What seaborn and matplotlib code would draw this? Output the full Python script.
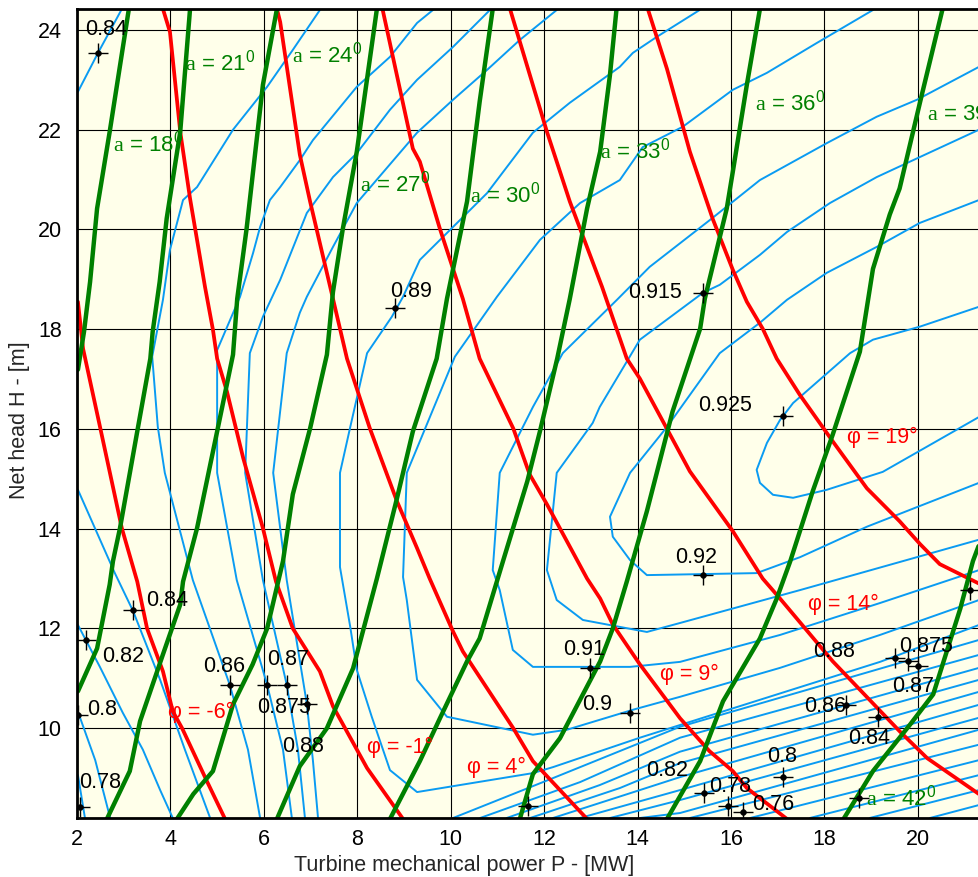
import numpy as np
import pandas as pd
import matplotlib
matplotlib.use("Agg")
import matplotlib.pyplot as plt
import seaborn as sns

# ---- guide vane opening lines (phi = const) ----
phi_labels = ["φ = -6°", "φ = -1°", "φ = 4°", "φ = 9°", "φ = 14°", "φ = 19°"]
phi_m6_x = [2.02, 2.13, 2.50, 2.96, 3.29, 3.50, 3.84, 4.05, 4.25, 4.78, 5.17]
phi_m6_y = [18.55, 17.61, 16.01, 14.01, 12.94, 12.00, 11.14, 10.34, 10.00, 8.94, 8.18]
phi_m1_x = [3.84, 3.99, 4.21, 4.42, 4.74, 4.91, 5.00, 5.21, 5.56, 5.98, 6.26, 6.62, 7.20, 7.48, 8.21, 8.98]
phi_m1_y = [24.42, 23.96, 21.96, 20.62, 18.85, 17.99, 17.41, 16.75, 15.41, 14.01, 12.94, 12.00, 11.14, 10.44, 9.20, 8.18]
phi_4_x = [6.28, 6.35, 6.77, 6.99, 7.48, 7.78, 8.27, 8.85, 9.28, 9.55, 10.05, 10.26, 11.34, 11.76, 12.92]
phi_4_y = [24.42, 24.16, 21.50, 20.56, 18.61, 17.41, 16.01, 14.55, 13.61, 13.00, 11.94, 11.54, 10.00, 9.34, 8.18]
phi_9_x = [8.54, 9.19, 9.34, 9.77, 10.26, 10.62, 11.34, 11.69, 12.06, 12.92, 13.20, 13.47, 14.05, 14.91, 15.54, 16.04, 16.34, 17.20]
phi_9_y = [24.42, 21.62, 21.36, 20.01, 18.61, 17.41, 16.01, 15.09, 14.49, 13.00, 12.60, 12.08, 11.28, 10.20, 9.54, 9.14, 8.80, 8.18]
phi_14_x = [11.27, 12.06, 12.55, 13.24, 13.77, 14.05, 15.12, 16.04, 16.68, 17.05, 18.18, 19.61, 20.20, 21.31]
phi_14_y = [24.42, 21.96, 20.56, 18.85, 17.41, 17.01, 15.15, 13.95, 13.00, 12.60, 11.34, 9.94, 9.40, 8.68]
phi_19_x = [14.22, 14.63, 15.12, 15.61, 16.04, 16.34, 16.68, 16.98, 17.47, 18.18, 18.91, 19.61, 20.05, 20.47, 21.31]
phi_19_y = [24.42, 23.22, 21.56, 20.21, 19.19, 18.55, 18.01, 17.41, 16.69, 15.75, 14.81, 14.15, 13.69, 13.29, 12.90]
phi_lab_x = [3.95, 8.21, 10.35, 14.48, 17.65, 18.48]
phi_lab_y = [10.31, 9.61, 9.22, 11.07, 12.49, 15.84]

# ---- runner blade angle lines (a = const) ----
a_labels = ["18", "21", "24", "27", "30", "33", "36", "39", "42"]
a18_x = [3.11, 2.90, 2.70, 2.43, 2.28, 2.15, 2.02]
a18_y = [24.42, 23.16, 21.96, 20.42, 18.95, 17.95, 17.19]
a21_x = [4.42, 4.21, 3.92, 3.77, 3.62, 3.57, 3.29, 2.92, 2.77, 2.70, 2.43, 2.02]
a21_y = [24.42, 21.96, 20.22, 18.95, 17.95, 17.41, 15.95, 14.01, 13.35, 12.88, 11.60, 10.74]
a24_x = [6.28, 5.98, 5.63, 5.43, 5.34, 5.00, 4.57, 4.27, 4.21, 3.84, 3.35, 3.13, 2.64]
a24_y = [24.42, 22.90, 20.01, 18.61, 17.49, 15.95, 14.01, 12.94, 12.48, 11.48, 10.14, 9.14, 8.18]
a27_x = [8.42, 8.21, 7.99, 7.69, 7.48, 7.35, 6.99, 6.62, 6.41, 6.07, 5.76, 5.34, 4.91, 4.49, 4.14]
a27_y = [24.42, 23.02, 21.56, 20.01, 18.75, 17.49, 16.01, 14.69, 13.35, 12.00, 11.28, 10.48, 9.14, 8.68, 8.18]
a30_x = [10.90, 10.62, 10.35, 9.92, 9.70, 9.19, 8.85, 8.42, 7.91, 7.35, 6.77, 6.28]
a30_y = [24.42, 22.56, 20.56, 18.61, 17.41, 15.95, 14.61, 13.00, 11.20, 10.00, 9.24, 8.18]
a33_x = [13.55, 13.41, 13.20, 12.92, 12.55, 12.28, 11.91, 11.64, 11.12, 10.62, 10.35, 9.77, 9.34, 8.70]
a33_y = [24.42, 23.10, 21.56, 20.42, 18.61, 17.41, 15.95, 14.95, 13.35, 11.80, 11.34, 10.20, 9.34, 8.18]
a36_x = [16.62, 16.34, 16.04, 15.91, 15.44, 15.34, 14.75, 14.20, 13.77, 13.47, 13.20, 12.34, 11.76, 11.48]
a36_y = [24.42, 22.90, 21.16, 20.42, 18.61, 18.01, 16.35, 14.35, 12.94, 12.00, 11.34, 9.80, 9.08, 8.18]
a39_x = [20.53, 20.05, 19.61, 19.40, 19.04, 18.76, 18.18, 17.75, 17.27, 16.98, 16.62, 15.83, 15.34, 14.63]
a39_y = [24.42, 22.56, 20.82, 20.30, 19.21, 17.55, 15.89, 14.75, 13.35, 12.60, 11.80, 10.54, 9.34, 8.18]
a42_x = [21.30, 21.18, 20.91, 20.33, 19.84, 19.04, 18.41]
a42_y = [13.65, 13.35, 12.40, 10.68, 10.08, 9.14, 8.18]
a_lab_x = [2.77, 4.31, 6.60, 8.06, 10.41, 13.19, 16.51, 20.19, 18.89]
a_lab_y = [21.73, 23.34, 23.50, 20.93, 20.69, 21.59, 22.54, 22.34, 8.60]

# ---- efficiency contours (P, H pairs along each iso-line) ----
eta_a_x = [2.02, 2.45, 2.96]
eta_a_y = [22.76, 23.54, 24.42]
eta_b_x = [7.20, 6.62, 6.07, 5.34, 4.57, 4.27, 3.99, 3.84, 3.61, 3.73, 3.88, 4.48, 5.27, 5.66, 5.92]
eta_b_y = [24.40, 23.60, 22.86, 22.00, 20.85, 20.59, 19.59, 18.59, 17.45, 16.04, 15.12, 12.97, 10.87, 9.57, 8.20]
eta_c_x = [9.62, 9.28, 8.70, 7.99, 7.05, 6.77, 6.35, 6.13, 5.92, 5.77, 5.49, 5.00, 5.00, 5.42, 6.07, 6.41, 6.60]
eta_c_y = [24.40, 24.14, 23.46, 22.86, 21.79, 21.39, 20.85, 20.59, 20.05, 19.53, 18.65, 17.58, 15.12, 12.97, 10.87, 9.57, 8.20]
eta_d_x = [10.84, 10.05, 9.28, 8.70, 7.99, 7.48, 6.92, 6.35, 5.98, 5.70, 5.60, 5.98, 6.49, 6.73, 6.88]
eta_d_y = [24.40, 23.66, 23.00, 22.40, 21.53, 21.05, 20.33, 18.99, 18.25, 17.52, 15.12, 12.97, 10.87, 9.57, 8.20]
eta_e_x = [12.27, 11.48, 10.78, 10.05, 9.28, 7.99, 7.48, 6.92, 6.77, 6.49, 6.20, 6.49, 6.92, 7.05, 7.16]
eta_e_y = [24.40, 23.80, 23.20, 22.60, 21.94, 20.53, 19.65, 18.65, 18.33, 17.52, 15.12, 12.97, 10.49, 9.36, 8.20]
eta_f_x = [15.33, 14.41, 13.90, 13.62, 12.55, 11.76, 10.78, 10.05, 9.34, 8.98, 8.74, 8.21, 7.85, 7.63, 7.63,
           7.85, 7.99, 8.31, 8.70, 9.28, 11.76, 12.19, 14.05, 16.62, 19.19, 21.31]
eta_f_y = [24.40, 23.86, 23.54, 23.26, 22.54, 21.94, 20.73, 20.05, 19.39, 18.65, 18.25, 17.52, 16.04, 15.12, 13.23,
           12.03, 11.17, 10.23, 9.16, 8.72, 9.10, 9.22, 9.81, 10.57, 11.33, 12.07]
eta_g_x = [19.04, 17.84, 16.77, 16.04, 14.97, 14.11, 13.62, 12.77, 11.91, 10.99, 10.09, 9.06, 8.98, 9.06, 9.28,
           9.92, 11.76, 12.49, 13.90, 14.91, 17.05, 19.19, 21.31]
eta_g_y = [24.40, 23.74, 23.14, 22.80, 22.06, 21.65, 20.99, 20.53, 19.79, 18.65, 17.45, 15.12, 13.03, 12.57, 10.97,
           10.23, 9.87, 9.97, 10.37, 10.63, 11.21, 11.87, 12.57]
eta_h_x = [21.31, 19.98, 19.12, 18.05, 16.62, 15.55, 14.26, 13.56, 12.40, 11.76, 11.05, 10.90, 11.05, 11.33, 11.76,
           13.84, 14.91, 17.05, 19.19, 21.31]
eta_h_y = [23.26, 22.60, 22.26, 21.73, 20.99, 20.19, 19.25, 18.59, 17.52, 16.44, 15.12, 13.17, 12.77, 11.57, 11.23,
           11.23, 11.33, 11.87, 12.51, 13.17]
eta_i_x = [21.31, 20.04, 19.12, 18.12, 17.20, 16.62, 15.76, 15.40, 14.05, 13.19, 13.04, 12.27, 12.06, 12.27, 12.83,
           14.20, 14.91, 17.48, 21.31]
eta_i_y = [22.00, 21.45, 21.05, 20.53, 19.95, 19.49, 18.89, 18.73, 17.79, 16.44, 16.12, 15.12, 13.17, 12.57, 12.17,
           11.93, 12.11, 12.77, 13.78]
eta_j_x = [21.31, 20.04, 19.12, 18.05, 17.20, 16.62, 15.76, 14.63, 13.84, 13.41, 13.47, 13.84, 14.20, 16.55, 17.48,
           18.91, 21.31]
eta_j_y = [20.59, 20.13, 19.65, 19.13, 18.59, 18.13, 17.52, 16.04, 15.12, 14.24, 13.84, 13.37, 13.07, 13.11, 13.43,
           14.04, 14.92]
eta_k_x = [21.31, 20.04, 19.04, 18.55, 17.33, 17.05, 16.77, 16.55, 16.62, 16.90, 17.33, 18.05, 19.25, 21.31]
eta_k_y = [18.45, 18.05, 17.79, 17.52, 16.52, 16.18, 15.72, 15.18, 14.92, 14.68, 14.62, 14.78, 15.14, 16.24]
eta_l_x = [2.02, 2.81, 3.20, 3.78, 4.31, 4.85]
eta_l_y = [14.78, 13.11, 12.35, 10.97, 9.57, 8.20]
eta_m_x = [2.02, 2.49, 2.98, 3.41, 3.78, 4.05]
eta_m_y = [12.07, 11.23, 10.31, 9.57, 8.76, 8.20]
eta_n_x = [2.02, 2.39, 2.71]
eta_n_y = [10.33, 9.36, 8.20]
eta_o_x = [2.02, 2.17]
eta_o_y = [9.06, 8.20]
# lower-right band of iso-lines
band_x = [[10.05, 12.19, 14.91, 21.31], [10.63, 12.77, 14.91, 21.31], [11.20, 13.19, 14.91, 21.31],
          [11.70, 13.62, 14.91, 21.31], [12.19, 14.05, 14.91, 21.31], [12.77, 14.91, 21.31],
          [13.41, 14.91, 21.31], [14.05, 14.91, 21.31], [15.12, 21.31], [16.41, 21.31],
          [17.69, 21.31], [18.97, 21.31], [20.26, 21.31]]
band_y = [[8.20, 9.00, 10.03, 11.77], [8.20, 8.92, 9.81, 11.47], [8.20, 8.86, 9.53, 11.21],
          [8.20, 8.80, 9.30, 10.97], [8.20, 8.76, 9.02, 10.73], [8.20, 8.76, 10.47],
          [8.20, 8.56, 10.21], [8.20, 8.30, 9.97], [8.20, 9.67], [8.20, 9.36],
          [8.20, 9.06], [8.20, 8.76], [8.20, 8.46]]

eta_lines = [(eta_a_x, eta_a_y), (eta_b_x, eta_b_y), (eta_c_x, eta_c_y), (eta_d_x, eta_d_y),
             (eta_e_x, eta_e_y), (eta_f_x, eta_f_y), (eta_g_x, eta_g_y), (eta_h_x, eta_h_y),
             (eta_i_x, eta_i_y), (eta_j_x, eta_j_y), (eta_k_x, eta_k_y), (eta_l_x, eta_l_y),
             (eta_m_x, eta_m_y), (eta_n_x, eta_n_y), (eta_o_x, eta_o_y)]
eta_lines += list(zip(band_x, band_y))

# ---- measured points ----
pt_x = [2.45, 8.81, 15.40, 17.11, 15.40, 12.98, 13.84, 3.20, 2.19, 2.02, 2.06, 5.27, 6.07, 6.49, 6.92,
        11.65, 15.42, 15.93, 16.26, 17.11, 18.46, 19.14, 19.51, 19.79, 20.00, 18.74, 21.11]
pt_y = [23.54, 18.43, 18.73, 16.26, 13.07, 11.21, 10.31, 12.37, 11.77, 10.27, 8.42, 10.87, 10.87, 10.87, 10.49,
        8.44, 8.70, 8.44, 8.32, 9.02, 10.47, 10.23, 11.41, 11.35, 11.25, 8.60, 12.77]

eta_text = ["0.84", "0.89", "0.915", "0.925", "0.92", "0.91", "0.9", "0.84", "0.82", "0.8", "0.78",
            "0.86", "0.87", "0.875", "0.88", "0.82", "0.78", "0.76", "0.8", "0.86", "0.84", "0.88",
            "0.875", "0.87"]
eta_text_x = [2.62, 9.15, 14.37, 15.87, 15.25, 12.85, 13.13, 3.93, 2.98, 2.54, 2.49,
              5.15, 6.52, 6.43, 6.84, 14.63, 15.98, 16.90, 17.09, 18.01, 18.95, 18.20,
              20.17, 19.89]
eta_text_y = [24.00, 18.75, 18.73, 16.48, 13.43, 11.57, 10.47, 12.57, 11.43, 10.37, 8.92,
              11.23, 11.37, 10.41, 9.63, 9.16, 8.84, 8.48, 9.43, 10.43, 9.79, 11.53,
              11.63, 10.83]

sns.set_theme(style="white")
plt.rcParams["font.family"] = ["Liberation Sans", "DejaVu Sans"]
plt.rcParams["mathtext.fontset"] = "custom"
plt.rcParams["mathtext.rm"] = "Liberation Serif"
plt.rcParams["mathtext.sf"] = "Liberation Sans"

fig = plt.figure(figsize=(9.79, 8.77), dpi=100)
ax = fig.add_axes([77 / 979, 59 / 877, 902 / 979, 809 / 877])
ax.set_facecolor("#FFFFEA")

FS = 15.5

# efficiency iso-lines
rows = []
for k, (xs, ys) in enumerate(eta_lines):
    for i, (xv, yv) in enumerate(zip(xs, ys)):
        rows.append({"line": k, "order": i, "P": xv, "H": yv})
eta_df = pd.DataFrame(rows)
sns.lineplot(data=eta_df, x="P", y="H", units="line", estimator=None, sort=False,
             color="#0A9BF2", lw=1.4, ax=ax, legend=False)

# red phi lines
phi_lines = [(phi_m6_x, phi_m6_y), (phi_m1_x, phi_m1_y), (phi_4_x, phi_4_y),
             (phi_9_x, phi_9_y), (phi_14_x, phi_14_y), (phi_19_x, phi_19_y)]
for xs, ys in phi_lines:
    sns.lineplot(x=xs, y=ys, sort=False, estimator=None, color="#FF0000", lw=2.7, ax=ax)
for t, xv, yv in zip(phi_labels, phi_lab_x, phi_lab_y):
    ax.text(xv, yv, t, color="#FF0000", fontsize=FS, ha="left", va="center", zorder=8)

# green blade-angle lines
a_lines = [(a18_x, a18_y), (a21_x, a21_y), (a24_x, a24_y), (a27_x, a27_y), (a30_x, a30_y),
           (a33_x, a33_y), (a36_x, a36_y), (a39_x, a39_y), (a42_x, a42_y)]
for xs, ys in a_lines:
    sns.lineplot(x=xs, y=ys, sort=False, estimator=None, color="#008000", lw=3.2, ax=ax)
for t, xv, yv in zip(a_labels, a_lab_x, a_lab_y):
    ax.text(xv, yv, r"$\mathrm{a}$ = " + t + r"$^{\mathsf{0}}$", color="#008000",
            fontsize=FS + 0.5, ha="left", va="center", zorder=8)

# measured points
sns.scatterplot(x=pt_x, y=pt_y, marker="+", s=190, color="black", linewidth=1.0, ax=ax, zorder=6)
sns.scatterplot(x=pt_x, y=pt_y, marker="o", s=18, color="black", edgecolor="black", ax=ax, zorder=7)
for t, xv, yv in zip(eta_text, eta_text_x, eta_text_y):
    ax.text(xv, yv, t, color="black", fontsize=FS, ha="center", va="center", zorder=8)

ax.set_xlim(2, 21.31)
ax.set_ylim(8.20, 24.42)
ax.set_xticks(np.arange(2, 21, 2))
ax.set_yticks(np.arange(10, 25, 2))
ax.grid(True, color="black", lw=0.8)
ax.set_axisbelow(True)
for side in ["left", "top", "bottom"]:
    ax.spines[side].set_color("black")
    ax.spines[side].set_linewidth(2.0)
ax.spines["right"].set_visible(False)
ax.tick_params(axis="both", direction="in", length=5, width=1, labelsize=FS, colors="black")
ax.tick_params(axis="x", pad=8)
ax.tick_params(axis="y", pad=11)
ax.set_xlabel("")
ax.set_ylabel("")
fig.text(464 / 979, 1 - 866 / 877, "Turbine mechanical power P - [MW]", fontsize=FS,
         ha="center", va="center")
fig.text(20 / 979, 1 - 420 / 877, "Net head H - [m]", fontsize=FS, rotation=90,
         ha="center", va="center")

fig.savefig("out.png", dpi=100)
